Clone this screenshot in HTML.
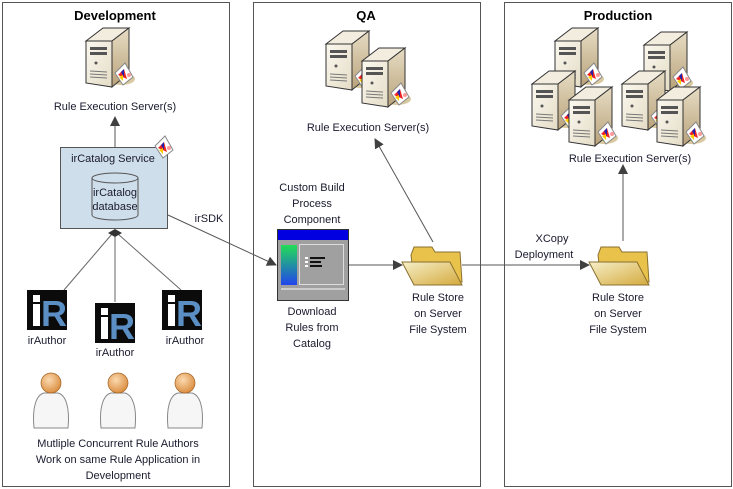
<!DOCTYPE html>
<html><head><meta charset="utf-8"><style>
html,body{margin:0;padding:0;background:#fff;}
svg{display:block;font-family:"Liberation Sans",sans-serif;}
text{font-size:11px;fill:#1a1a2e;text-anchor:middle;}
.t{font-weight:bold;font-size:13px;fill:#000;}
</style></head><body>
<svg width="733" height="489" viewBox="0 0 733 489" xmlns="http://www.w3.org/2000/svg">
<defs>
<linearGradient id="sv" x1="0" y1="0" x2="1" y2="1"><stop offset="0" stop-color="#fbf8ef"/><stop offset="1" stop-color="#e4dcc6"/></linearGradient>
<linearGradient id="sd" x1="0" y1="0" x2="0" y2="1"><stop offset="0" stop-color="#e6dcc4"/><stop offset="1" stop-color="#b9a27a"/></linearGradient>
<linearGradient id="gp" x1="0" y1="0" x2="0" y2="1"><stop offset="0" stop-color="#22dd55"/><stop offset="1" stop-color="#2244ee"/></linearGradient>
<linearGradient id="fd" x1="0" y1="0" x2="1" y2="1"><stop offset="0" stop-color="#f6efc8"/><stop offset="1" stop-color="#d4aa3e"/></linearGradient>
<radialGradient id="hd" cx="0.4" cy="0.35" r="0.7"><stop offset="0" stop-color="#fbd9b0"/><stop offset="1" stop-color="#d98a3a"/></radialGradient>
<g id="srv">
<ellipse cx="36" cy="52" rx="14" ry="6" fill="#d9c9a0"/>
<polygon points="1,14 18,1 44,1 27,14" fill="#f3ede0" stroke="#333" stroke-width="1"/>
<polygon points="1,14 27,14 27,60 1,56" fill="url(#sv)" stroke="#333" stroke-width="1"/>
<polygon points="27,14 44,1 44,46 27,60" fill="url(#sd)" stroke="#333" stroke-width="1"/>
<rect x="5" y="20" width="17" height="3" fill="#555"/><rect x="5" y="25" width="17" height="3" fill="#555"/>
<circle cx="11" cy="36" r="1.5" fill="#555"/>
<line x1="5" y1="44" x2="22" y2="45" stroke="#777"/><line x1="5" y1="47" x2="22" y2="48" stroke="#777"/><line x1="5" y1="50" x2="22" y2="51" stroke="#777"/>
<g transform="translate(30,40)"><polygon points="0,6 10,-4 18,10 8,18" fill="#fff" stroke="#888"/><polygon points="3,8 9,2 12,12" fill="#e22"/><polygon points="6,5 9,2 9,10" fill="#22a"/><polygon points="4,10 8,8 8,14" fill="#fc0"/><circle cx="14" cy="8" r="2" fill="#f99"/></g>
</g>
<g id="bdg"><polygon points="0,6 10,-4 18,10 8,18" fill="#fff" stroke="#888"/><polygon points="3,8 9,2 12,12" fill="#e22"/><polygon points="6,5 9,2 9,10" fill="#22a"/><polygon points="4,10 8,8 8,14" fill="#fc0"/><circle cx="14" cy="8" r="2" fill="#f99"/></g>
<g id="ir"><rect width="40" height="40" fill="#0b0b0b"/><rect x="6" y="5" width="7" height="7" fill="#fff"/><rect x="6" y="14" width="7" height="22" fill="#fff"/><text x="27" y="36" style="font-size:36px;font-weight:bold;fill:#5b8fc4;text-anchor:middle">R</text></g>
<g id="ps"><path d="M0,45 C-2,25 2,12 10,10 L24,10 C32,12 36,25 34,45 Z" fill="#f6f6f6" stroke="#888"/><circle cx="17" cy="0" r="10" fill="url(#hd)" stroke="#a06020" stroke-width="0.7"/></g>
<g id="fol"><path d="M9,8 L12,0 L30,0 L33,5 L58,5 L60,35 L12,35 Z" fill="#e8c24a" stroke="#8a7030"/><polygon points="0,15 48,15 60,38 12,38" fill="url(#fd)" stroke="#8a7030"/></g>
<marker id="ah" markerWidth="10" markerHeight="10" refX="9" refY="5" orient="auto" markerUnits="userSpaceOnUse"><polygon points="0,0 10,5 0,10" fill="#404040"/></marker>
</defs>

<rect x="2.5" y="2.5" width="227" height="484" fill="none" stroke="#555"/>
<rect x="253.5" y="2.5" width="227" height="484" fill="none" stroke="#555"/>
<rect x="504.5" y="2.5" width="227" height="484" fill="none" stroke="#555"/>
<text class="t" x="115" y="20">Development</text>
<text class="t" x="366" y="20">QA</text>
<text class="t" x="618" y="20">Production</text>

<!-- Dev -->
<use href="#srv" x="85" y="27"/>
<text x="115" y="110">Rule Execution Server(s)</text>
<line x1="115" y1="147" x2="115" y2="117" stroke="#555" marker-end="url(#ah)"/>
<rect x="60.5" y="147.5" width="107" height="81" fill="#cfdeeb" stroke="#555"/>
<use href="#bdg" x="155" y="140"/>
<text x="113" y="162">irCatalog Service</text>
<path d="M92,178 L92,215 A23,5 0 0 0 138,215 L138,178" fill="#cfdeeb" stroke="#555"/>
<ellipse cx="115" cy="178" rx="23" ry="5" fill="#cfdeeb" stroke="#555"/>
<text x="115" y="196">irCatalog</text>
<text x="115" y="210">database</text>
<line x1="64" y1="290" x2="112" y2="234" stroke="#666"/>
<line x1="115" y1="302" x2="115" y2="234" stroke="#666"/>
<line x1="181" y1="290" x2="118" y2="234" stroke="#666"/>
<polygon points="115,229 122,233 115,237 108,233" fill="#333"/>
<use href="#ir" x="27" y="290"/><use href="#ir" x="95" y="303"/><use href="#ir" x="162" y="290"/>
<text x="47" y="344">irAuthor</text><text x="115" y="356">irAuthor</text><text x="185" y="344">irAuthor</text>
<use href="#ps" x="34" y="383"/><use href="#ps" x="101" y="383"/><use href="#ps" x="168" y="383"/>
<text x="118" y="447">Mutliple Concurrent Rule Authors</text>
<text x="118" y="463">Work on same Rule Application in</text>
<text x="118" y="479">Development</text>
<text x="209" y="222">irSDK</text>
<line x1="168" y1="215" x2="276" y2="265" stroke="#555" marker-end="url(#ah)"/>

<!-- QA -->
<use href="#srv" x="325" y="30"/>
<use href="#srv" x="361" y="47"/>
<text x="368" y="131">Rule Execution Server(s)</text>
<line x1="433" y1="242" x2="375" y2="139" stroke="#555" marker-end="url(#ah)"/>
<text x="312" y="191">Custom Build</text><text x="312" y="207">Process</text><text x="312" y="223">Component</text>
<rect x="277.5" y="229.5" width="71" height="71" fill="#a0a0a0" stroke="#333"/>
<rect x="278" y="230" width="70" height="10" fill="#0000e0"/>
<rect x="281" y="245" width="16" height="40" fill="url(#gp)"/>
<rect x="299.5" y="244.5" width="44" height="40" fill="none" stroke="#ddd"/>
<rect x="305" y="257" width="3" height="2" fill="#fff"/><rect x="305" y="261" width="3" height="2" fill="#fff"/><rect x="305" y="265" width="3" height="2" fill="#fff"/>
<rect x="310" y="257" width="15" height="2" fill="#111"/><rect x="310" y="261" width="11" height="2" fill="#111"/><rect x="310" y="265" width="12" height="2" fill="#111"/>
<rect x="281" y="288" width="64" height="2" fill="#ccc"/>
<text x="312" y="315">Download</text><text x="312" y="331">Rules from</text><text x="312" y="347">Catalog</text>
<line x1="349" y1="265" x2="402" y2="265" stroke="#555" marker-end="url(#ah)"/>
<use href="#fol" x="402" y="247"/>
<text x="438" y="301">Rule Store</text><text x="438" y="317">on Server</text><text x="438" y="333">File System</text>

<!-- Prod -->
<line x1="462" y1="265" x2="589" y2="265" stroke="#555" marker-end="url(#ah)"/>
<text x="552" y="242">XCopy</text><text x="544" y="258">Deployment</text>
<use href="#fol" x="589" y="247"/>
<text x="618" y="301">Rule Store</text><text x="618" y="317">on Server</text><text x="618" y="333">File System</text>
<line x1="623" y1="241" x2="623" y2="165" stroke="#555" marker-end="url(#ah)"/>
<text x="630" y="162">Rule Execution Server(s)</text>
<use href="#srv" x="554" y="27"/>
<use href="#srv" x="531" y="70"/>
<use href="#srv" x="568" y="86"/>
<use href="#srv" x="643" y="31"/>
<use href="#srv" x="621" y="70"/>
<use href="#srv" x="656" y="86"/>
</svg>
</body></html>
